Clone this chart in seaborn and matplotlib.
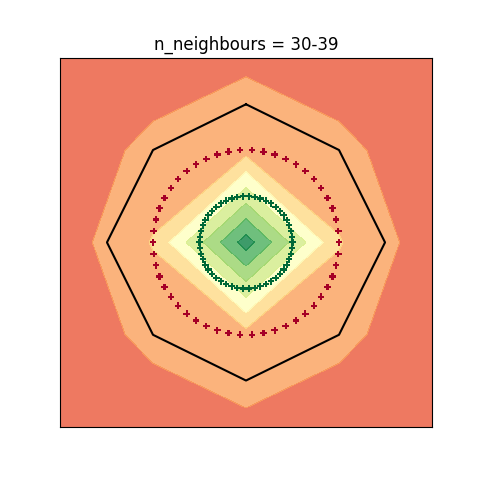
import numpy as np
import pandas as pd
import seaborn as sns
import matplotlib.pyplot as plt

# coarse grid of predicted probability (class 1)
grid_x = [-2, -1, 0, 1, 2]
grid_y = [-2, -1, 0, 1, 2]
prob = [
    [0.120, 0.142, 0.184, 0.142, 0.120],
    [0.139, 0.226, 0.261, 0.226, 0.139],
    [0.143, 0.307, 0.850, 0.307, 0.143],
    [0.139, 0.226, 0.261, 0.226, 0.139],
    [0.120, 0.142, 0.184, 0.142, 0.120],
]
levels = [0.0, 0.1, 0.2, 0.3, 0.4, 0.5, 0.6, 0.7, 0.8, 0.9]

# black boundary polygon
boundary_x = [0, 1, 1.495, 1, 0, -1, -1.495, -1, 0]
boundary_y = [1.495, 1, 0, -1, -1.495, -1, 0, 1, 1.495]

# the two rings of samples (angle in degrees, radius, label)
angles = [0, 7.2, 14.4, 21.6, 28.8, 36, 43.2, 50.4, 57.6, 64.8,
          72, 79.2, 86.4, 93.6, 100.8, 108, 115.2, 122.4, 129.6, 136.8,
          144, 151.2, 158.4, 165.6, 172.8, 180, 187.2, 194.4, 201.6, 208.8,
          216, 223.2, 230.4, 237.6, 244.8, 252, 259.2, 266.4, 273.6, 280.8,
          288, 295.2, 302.4, 309.6, 316.8, 324, 331.2, 338.4, 345.6, 352.8]
outer_radius = 1.0
inner_radius = 0.5

ang = np.deg2rad(angles)
df = pd.DataFrame({
    'x': np.concatenate([outer_radius * np.cos(ang), inner_radius * np.cos(ang)]),
    'y': np.concatenate([outer_radius * np.sin(ang), inner_radius * np.sin(ang)]),
    'label': [0] * len(angles) + [1] * len(angles),
})

cmap = plt.get_cmap('RdYlGn')

fig, ax = plt.subplots(figsize=(4.8, 4.8), dpi=100)
ax.contourf(grid_x, grid_y, np.array(prob), levels=levels, cmap=cmap, alpha=0.8)
ax.plot(boundary_x, boundary_y, color='black', linewidth=1.5)
sns.scatterplot(data=df, x='x', y='y', hue='label',
                palette={0: cmap(0.0), 1: cmap(1.0)},
                marker='P', s=22, linewidth=0, legend=False, ax=ax)

ax.set_xlim(-2, 2)
ax.set_ylim(-2, 2)
ax.set_xticks([])
ax.set_yticks([])
ax.set_xlabel('')
ax.set_ylabel('')
ax.set_title('n_neighbours = 30-39')

plt.savefig('out.png', dpi=100)
